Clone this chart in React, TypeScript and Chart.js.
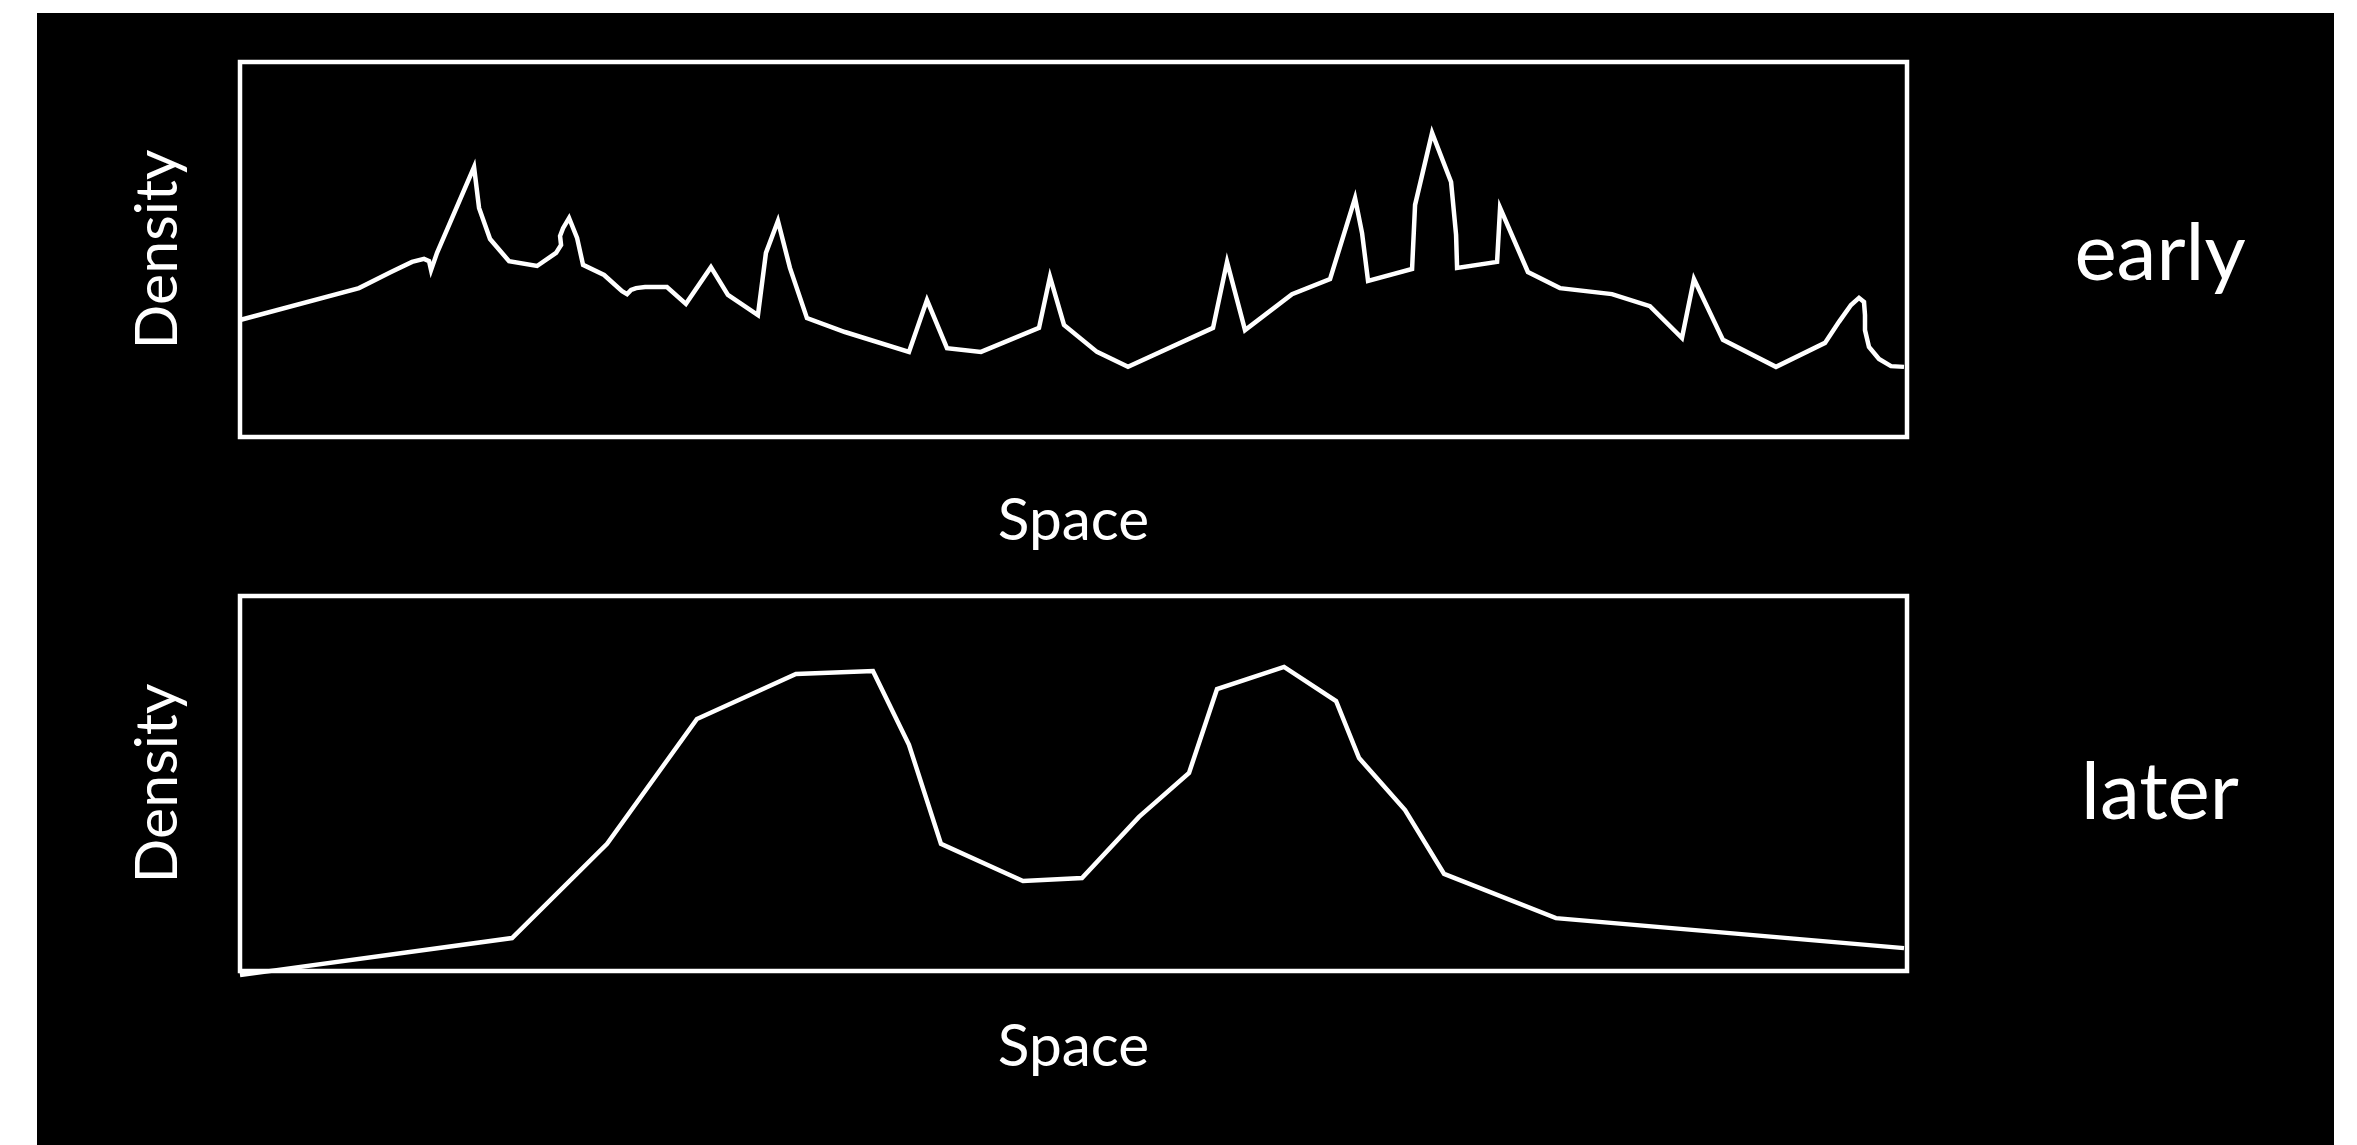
import React, { useEffect, useRef } from "react";
import { Chart, registerables } from "chart.js";

Chart.register(...registerables);

// ---- data (Space 0..100, Density 0..100, arbitrary units) ----
const earlySpace = [
  0.0, 7.14, 9.06, 10.32, 11.04, 11.34, 11.46, 11.82, 14.04, 14.34, 15.0, 16.14, 17.82,
  18.96, 19.26, 19.2, 19.38, 19.74, 20.22, 20.58, 21.84, 22.92, 23.22, 23.46, 23.76, 24.3,
  25.61, 26.75, 28.25, 29.27, 31.07, 31.55, 32.27, 32.99, 34.01, 36.29, 40.13, 41.21, 42.41,
  44.45, 47.93, 48.59, 49.43, 51.41, 53.27, 58.37, 59.21, 60.29, 63.11, 65.39, 66.89, 67.31,
  67.67, 70.31, 70.49, 71.51, 72.65, 72.95, 73.01, 75.41, 75.59, 77.26, 79.18, 82.3, 84.58,
  86.5, 87.22, 88.96, 92.14, 95.08, 95.92, 96.64, 97.12, 97.42, 97.48, 97.48, 97.72, 98.32,
  99.04, 99.82,
];
const earlyDensity = [
  31.2, 39.7, 44.0, 46.7, 47.5, 46.9, 44.5, 49.1, 72.0, 61.1, 52.8, 46.9, 45.6,
  49.1, 51.2, 53.6, 55.7, 58.4, 53.1, 45.9, 43.2, 38.9, 38.1, 39.2, 39.7, 40.0,
  40.0, 35.5, 45.3, 37.9, 32.5, 49.1, 57.6, 45.1, 31.7, 28.0, 22.7, 36.5, 23.7,
  22.7, 29.1, 42.7, 29.9, 22.7, 18.7, 29.1, 46.7, 28.5, 38.1, 42.1, 63.7, 54.4,
  41.6, 44.8, 61.9, 81.1, 68.0, 53.9, 45.1, 46.7, 61.1, 44.0, 39.7, 38.1, 34.9,
  26.4, 42.1, 25.9, 18.7, 25.1, 30.7, 35.2, 37.1, 36.0, 32.5, 28.5, 24.0, 20.8,
  18.9, 18.7,
];

const laterSpace = [
  0.0, 16.32, 22.02, 27.41, 33.35, 37.97, 40.13, 42.05, 46.97, 50.51, 53.93, 56.93,
  58.61, 62.63, 65.75, 67.13, 69.89, 72.23, 78.94, 99.82,
];
const laterDensity = [
  -1.1, 8.8, 33.9, 67.2, 79.2, 80.0, 60.3, 33.9, 24.0, 24.8, 41.1, 52.8,
  75.2, 81.1, 72.0, 56.8, 42.9, 25.9, 14.1, 6.1,
];

const panelLabels = ["early", "later"];
const xAxisTitle = "Space";
const yAxisTitle = "Density";

const FONT = "Lato, 'Open Sans', sans-serif";
const CANVAS_W = 2297;
const CANVAS_H = 566;

const framePlugin = {
  id: "frameAndLabel",
  afterDraw(chart: any) {
    const { ctx, chartArea } = chart;
    const o = chart.options.plugins.frameAndLabel || {};
    ctx.save();
    ctx.strokeStyle = "#ffffff";
    ctx.lineWidth = 4.5;
    ctx.strokeRect(
      chartArea.left,
      chartArea.top,
      chartArea.right - chartArea.left,
      chartArea.bottom - chartArea.top
    );
    if (o.label) {
      ctx.fillStyle = "#ffffff";
      ctx.font = `80px ${FONT}`;
      ctx.textAlign = "center";
      ctx.textBaseline = "alphabetic";
      ctx.fillText(o.label, chartArea.right + 253, o.labelY);
    }
    ctx.restore();
  },
};

type PanelProps = {
  xs: number[];
  ys: number[];
  label: string;
  top: number;
  padTop: number;
  xTitlePad: { top: number; bottom: number };
  labelY: number;
};

function Panel({ xs, ys, label, top, padTop, xTitlePad, labelY }: PanelProps) {
  const ref = useRef<HTMLCanvasElement | null>(null);
  useEffect(() => {
    if (!ref.current) return;
    const chart = new Chart(ref.current, {
      type: "line",
      data: {
        datasets: [
          {
            data: xs.map((x, i) => ({ x, y: ys[i] })),
            borderColor: "#ffffff",
            borderWidth: 4.5,
            pointRadius: 0,
            tension: 0,
            fill: false,
            clip: false as any,
          },
        ],
      },
      options: {
        animation: false,
        responsive: false,
        events: [],
        layout: { padding: { left: 0, top: padTop, right: 427, bottom: 0 } },
        plugins: {
          legend: { display: false },
          tooltip: { enabled: false },
          frameAndLabel: { label, labelY },
        } as any,
        scales: {
          x: {
            type: "linear",
            min: 0,
            max: 100,
            ticks: { display: false },
            grid: { display: false, drawTicks: false, tickLength: 0 },
            border: { display: false },
            title: {
              display: true,
              text: xAxisTitle,
              color: "#ffffff",
              font: { family: FONT, size: 58.5 },
              padding: xTitlePad,
            },
          },
          y: {
            type: "linear",
            min: 0,
            max: 100,
            ticks: { display: false },
            grid: { display: false, drawTicks: false, tickLength: 0 },
            border: { display: false },
            title: {
              display: true,
              text: yAxisTitle,
              color: "#ffffff",
              font: { family: FONT, size: 59 },
              padding: { top: 85.6, bottom: 46.6 },
            },
          },
        },
      },
      plugins: [framePlugin],
    });
    return () => chart.destroy();
  }, []);
  return (
    <canvas
      ref={ref}
      width={CANVAS_W}
      height={CANVAS_H}
      style={{ position: "absolute", left: 0, top, width: CANVAS_W, height: CANVAS_H }}
    />
  );
}

export default function App() {
  return (
    <div
      style={{
        position: "absolute",
        left: 37,
        top: 13,
        width: 2297,
        height: 1132,
        background: "#000000",
        overflow: "hidden",
      }}
    >
      <Panel
        xs={earlySpace}
        ys={earlyDensity}
        label={panelLabels[0]}
        top={0}
        padTop={49}
        xTitlePad={{ top: 49.3, bottom: 22.5 }}
        labelY={267}
      />
      <Panel
        xs={laterSpace}
        ys={laterDensity}
        label={panelLabels[1]}
        top={566}
        padTop={17}
        xTitlePad={{ top: 41.3, bottom: 62.5 }}
        labelY={240}
      />
    </div>
  );
}
